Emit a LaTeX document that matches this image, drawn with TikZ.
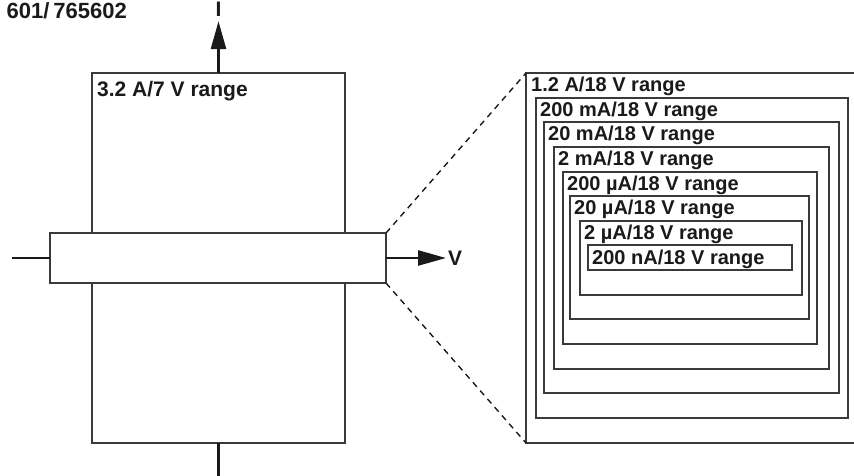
\documentclass[tikz,border=0pt]{standalone}
\usepackage{fontspec}
\setmainfont{Liberation Sans}
\usepackage{tikz}
\usetikzlibrary{arrows.meta,positioning}
\definecolor{ink}{HTML}{1A1A1A}
\definecolor{edge}{HTML}{3A3A3A}

\begin{document}
\begin{tikzpicture}[
  x=1pt, y=-1pt,
  rng/.style={draw=edge, line width=1.3pt, fill=white, inner sep=0pt, outer sep=0pt,
              rectangle, anchor=north west},
  lbl/.style={font=\fontsize{20}{22}\selectfont\bfseries, text=ink, inner sep=0pt, anchor=base west},
  big/.style={font=\fontsize{21}{24}\selectfont\bfseries, text=ink, inner sep=0pt},
  axis/.style={draw=ink, line width=2.6pt},
  arr/.style={axis, -{Triangle[length=28pt,width=15pt]}},
  zoomline/.style={draw=ink, line width=1.4pt, dash pattern=on 6pt off 5pt}
]
\useasboundingbox (0,0) rectangle (854,476);

% left: full range picture
\node[rng, minimum width=253pt, minimum height=370pt] (tall) at (92,73) {};
\node[big, anchor=base west] (tallL) at ([xshift=5pt,yshift=-24pt]tall.north west) {3.2 A/7 V range};
\node[rng, minimum width=336pt, minimum height=50pt] (band) at (50,233) {};

\node[big, font=\fontsize{22}{24}\selectfont\bfseries, anchor=base east] (title) at (127,19) {601/\kern4pt765602};
\node[big, anchor=base] (ilab) at (218.5,17) {I};
\node[big, anchor=west] (vlab) at (448,258) {V};
\coordinate (vleft) at (12,258);
\coordinate (vbot) at (218.5,476);

\draw[axis] (vleft) -- (band.west);
\draw[arr, shorten >=2pt] (band.east) -- (vlab.west);
\draw[arr, shorten >=4pt] (tall.north) -- (ilab.south);
\draw[axis] (tall.south) -- (vbot);

% right: nested low ranges
\node[rng, minimum width=331pt, minimum height=370pt] (r1) at (526,73) {};
\node[rng, minimum width=312pt, minimum height=320pt] (r2) at (536,98) {};
\node[rng, minimum width=295pt, minimum height=271pt] (r3) at (544,122) {};
\node[rng, minimum width=275pt, minimum height=222pt] (r4) at (554,147) {};
\node[rng, minimum width=254pt, minimum height=172pt] (r5) at (563,172) {};
\node[rng, minimum width=239pt, minimum height=123pt] (r6) at (570,196) {};
\node[rng, minimum width=222pt, minimum height=74pt] (r7) at (580,221) {};
\node[rng, minimum width=204pt, minimum height=25pt] (r8) at (588,245) {};

\node[lbl] (r1L) at ([xshift=5pt,yshift=-18.5pt]r1.north west) {1.2 A/18 V range};
\node[lbl] (r2L) at ([xshift=4pt,yshift=-18.5pt]r2.north west) {200 mA/18 V range};
\node[lbl] (r3L) at ([xshift=4pt,yshift=-18.5pt]r3.north west) {20 mA/18 V range};
\node[lbl] (r4L) at ([xshift=4pt,yshift=-18.5pt]r4.north west) {2 mA/18 V range};
\node[lbl] (r5L) at ([xshift=4pt,yshift=-18.5pt]r5.north west) {200 µA/18 V range};
\node[lbl] (r6L) at ([xshift=4pt,yshift=-18.5pt]r6.north west) {20 µA/18 V range};
\node[lbl] (r7L) at ([xshift=4pt,yshift=-18.5pt]r7.north west) {2 µA/18 V range};
\node[lbl] (r8L) at ([xshift=4pt,yshift=-19pt]r8.north west) {200 nA/18 V range};

\draw[zoomline] (band.north east) -- (r1.north west);
\draw[zoomline] (band.south east) -- (r1.south west);
\end{tikzpicture}
\end{document}
